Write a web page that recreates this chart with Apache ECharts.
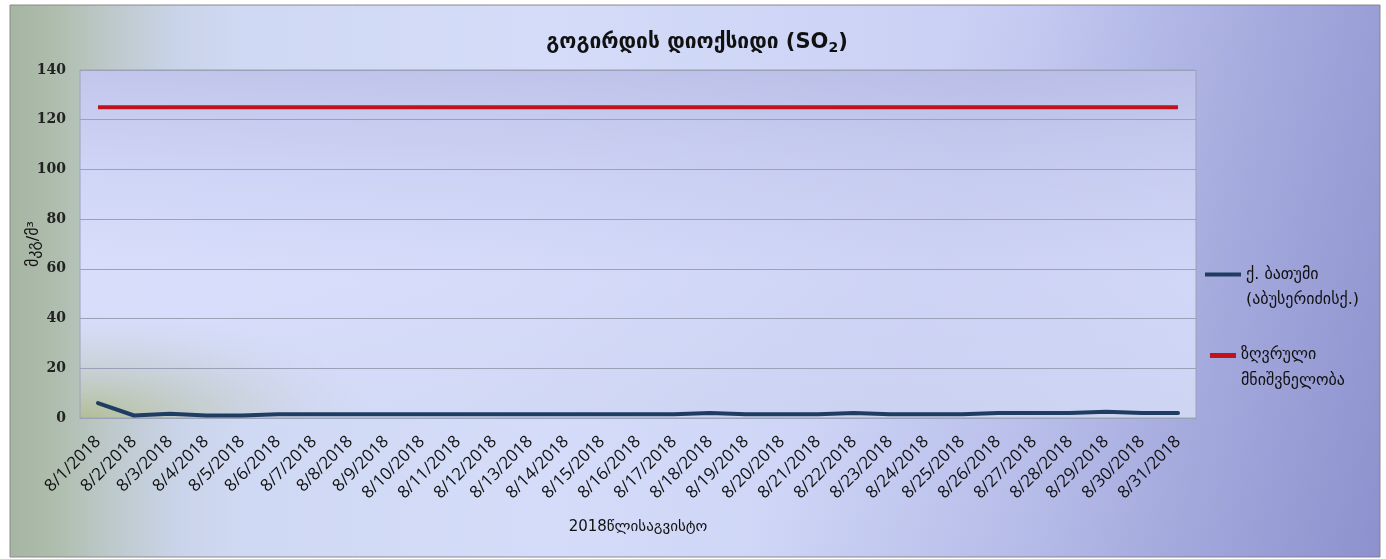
<!DOCTYPE html>
<html>
<head>
<meta charset="utf-8">
<script src="https://cdn.jsdelivr.net/npm/echarts@6/dist/echarts.min.js"></script>
<style>
  html, body { margin: 0; padding: 0; background: #ffffff; }
  #chart { width: 1386px; height: 559px; }
</style>
</head>
<body>
<div id="chart"></div>
<script>
// August 2018 dates
const categories = [
  '8/1/2018','8/2/2018','8/3/2018','8/4/2018','8/5/2018','8/6/2018','8/7/2018','8/8/2018',
  '8/9/2018','8/10/2018','8/11/2018','8/12/2018','8/13/2018','8/14/2018','8/15/2018','8/16/2018',
  '8/17/2018','8/18/2018','8/19/2018','8/20/2018','8/21/2018','8/22/2018','8/23/2018','8/24/2018',
  '8/25/2018','8/26/2018','8/27/2018','8/28/2018','8/29/2018','8/30/2018','8/31/2018'
];

// SO2 concentration, Batumi (Abuseridze st.)
const batumiValues = [
  6, 1, 1.7, 1, 1, 1.5, 1.5, 1.5, 1.5, 1.5, 1.5, 1.5, 1.5, 1.5, 1.5, 1.5,
  1.5, 2, 1.5, 1.5, 1.5, 2, 1.5, 1.5, 1.5, 2, 2, 2, 2.5, 2, 2
];

// Limit value
const limitValues = [
  125, 125, 125, 125, 125, 125, 125, 125, 125, 125, 125, 125, 125, 125, 125, 125,
  125, 125, 125, 125, 125, 125, 125, 125, 125, 125, 125, 125, 125, 125, 125
];

const yTicks = [0, 20, 40, 60, 80, 100, 120, 140];

const seriesNames = ['ქ. ბათუმი\n(აბუსერიძისქ.)', 'ზღვრული\nმნიშვნელობა'];

const geoFont = '"DejaVu Sans", "Noto Sans", sans-serif';

// legend icons: the stroke sits on the first text line
const iconLine = 'path://M0,0L36,0L36,4L0,4Z M0,28.9L0.1,28.9L0.1,29L0,29Z';
const iconBar = 'path://M0,0L26,0L26,5L0,5Z M0,29.9L0.1,29.9L0.1,30L0,30Z';

const chart = echarts.init(document.getElementById('chart'));

const option = {
  animation: false,
  backgroundColor: '#ffffff',
  graphic: [
    // outer frame with soft gradient
    {
      type: 'rect', z: -10, silent: true,
      shape: { x: 10, y: 5, width: 1370, height: 552 },
      style: {
        fill: new echarts.graphic.LinearGradient(0, 0, 1, 0, [
          { offset: 0, color: '#a6b6a3' },
          { offset: 0.03, color: '#adbcab' },
          { offset: 0.07, color: '#bcc8c8' },
          { offset: 0.12, color: '#c9d3e8' },
          { offset: 0.17, color: '#d0d9f3' },
          { offset: 0.4, color: '#d4dcf9' },
          { offset: 0.75, color: '#c8cef3' },
          { offset: 1, color: '#aeb3e3' }
        ]),
        stroke: '#8a8a8a', lineWidth: 1
      }
    },
    // darker shade toward the lower right
    {
      type: 'rect', z: -9, silent: true,
      shape: { x: 10, y: 5, width: 1370, height: 552 },
      style: {
        fill: new echarts.graphic.LinearGradient(0, 0, 1, 1, [
          { offset: 0, color: 'rgba(110,115,190,0)' },
          { offset: 0.6, color: 'rgba(110,115,190,0)' },
          { offset: 1, color: 'rgba(100,105,180,0.45)' }
        ])
      }
    },
    // plot area background
    {
      type: 'rect', z: -8, silent: true,
      shape: { x: 80, y: 70, width: 1116, height: 348 },
      style: {
        fill: new echarts.graphic.LinearGradient(0, 0, 0, 1, [
          { offset: 0, color: '#c2c6ec' },
          { offset: 0.3, color: '#d0d6f6' },
          { offset: 0.6, color: '#d9dffb' },
          { offset: 1, color: '#d6ddf8' }
        ])
      }
    },
    // darker top-right corner of the plot area
    {
      type: 'rect', z: -7, silent: true,
      shape: { x: 80, y: 70, width: 1116, height: 348 },
      style: {
        fill: new echarts.graphic.LinearGradient(0, 0, 1, 1, [
          { offset: 0, color: 'rgba(140,145,205,0)' },
          { offset: 0.4, color: 'rgba(140,145,205,0.05)' },
          { offset: 0.75, color: 'rgba(140,145,205,0.15)' },
          { offset: 1, color: 'rgba(140,145,205,0.1)' }
        ])
      }
    },
    // greenish glow in the lower-left corner of the plot area
    {
      type: 'rect', z: -6, silent: true,
      shape: { x: 80, y: 118, width: 300, height: 300 },
      scaleY: 0.36, originX: 80, originY: 418,
      style: {
        fill: new echarts.graphic.RadialGradient(0, 1, 1, [
          { offset: 0, color: 'rgba(178,190,150,1)' },
          { offset: 0.45, color: 'rgba(190,200,190,0.6)' },
          { offset: 1, color: 'rgba(205,212,235,0)' }
        ])
      }
    },
    // plot area border
    {
      type: 'rect', z: -5, silent: true,
      shape: { x: 80, y: 70, width: 1116, height: 348 },
      style: { fill: 'none', stroke: '#9aa2b8', lineWidth: 1 }
    }
  ],
  title: {
    text: 'გოგირდის დიოქსიდი (SO{sub|2})',
    left: 692,
    textAlign: 'center',
    top: 26,
    textStyle: {
      fontFamily: geoFont,
      fontSize: 21,
      fontWeight: 'bold',
      color: '#111',
      rich: {
        sub: { fontFamily: geoFont, fontSize: 14, fontWeight: 'bold', color: '#111', verticalAlign: 'bottom', padding: [10, 0, 0, 0] }
      }
    }
  },
  legend: [
    {
      data: [{ name: seriesNames[0], icon: iconLine }],
      orient: 'vertical',
      left: 1200,
      top: 257,
      itemWidth: 36,
      itemHeight: 29,
      itemGap: 4,
      textStyle: { fontFamily: geoFont, fontSize: 16, color: '#111', lineHeight: 25 }
    },
    {
      data: [{ name: seriesNames[1], icon: iconBar }],
      orient: 'vertical',
      left: 1205,
      top: 337,
      itemWidth: 26,
      itemHeight: 30,
      itemGap: 4,
      textStyle: { fontFamily: geoFont, fontSize: 16, color: '#111', lineHeight: 26 }
    }
  ],
  grid: {
    left: 80,
    top: 70,
    width: 1116,
    height: 348,
    containLabel: false
  },
  xAxis: {
    type: 'category',
    data: categories,
    boundaryGap: true,
    name: '2018წლისაგვისტო',
    nameLocation: 'middle',
    nameGap: 102,
    nameMoveOverlap: false,
    nameTextStyle: { fontFamily: geoFont, fontSize: 15, color: '#111' },
    axisLine: { show: true, lineStyle: { color: '#9aa2b8', width: 1 } },
    axisTick: { show: false },
    axisLabel: {
      interval: 0,
      rotate: 45,
      margin: 21,
      fontFamily: '"Open Sans", "Liberation Sans", sans-serif',
      fontSize: 17,
      color: '#111'
    }
  },
  yAxis: {
    type: 'value',
    min: yTicks[0],
    max: yTicks[yTicks.length - 1],
    interval: 20,
    name: 'მკგ/მ³',
    nameLocation: 'middle',
    nameGap: 38,
    nameMoveOverlap: false,
    nameRotate: 90,
    nameTextStyle: { fontFamily: geoFont, fontSize: 16, color: '#111' },
    axisLine: { show: false },
    axisTick: { show: false },
    axisLabel: {
      margin: 14,
      fontFamily: '"DejaVu Serif", "Liberation Serif", serif',
      fontWeight: 'bold',
      fontSize: 14,
      color: '#222'
    },
    splitLine: { show: true, lineStyle: { color: '#9aa2b8', width: 1 } }
  },
  series: [
    {
      name: seriesNames[0],
      type: 'line',
      data: batumiValues,
      showSymbol: false,
      symbol: 'none',
      lineStyle: { color: '#1f3d62', width: 4, cap: 'round', join: 'round' },
      itemStyle: { color: '#1f3d62' },
      z: 3
    },
    {
      name: seriesNames[1],
      type: 'line',
      data: limitValues,
      showSymbol: false,
      symbol: 'none',
      lineStyle: { color: '#c0131b', width: 4 },
      itemStyle: { color: '#c0131b' },
      z: 3
    }
  ]
};

chart.setOption(option);
</script>
</body>
</html>
